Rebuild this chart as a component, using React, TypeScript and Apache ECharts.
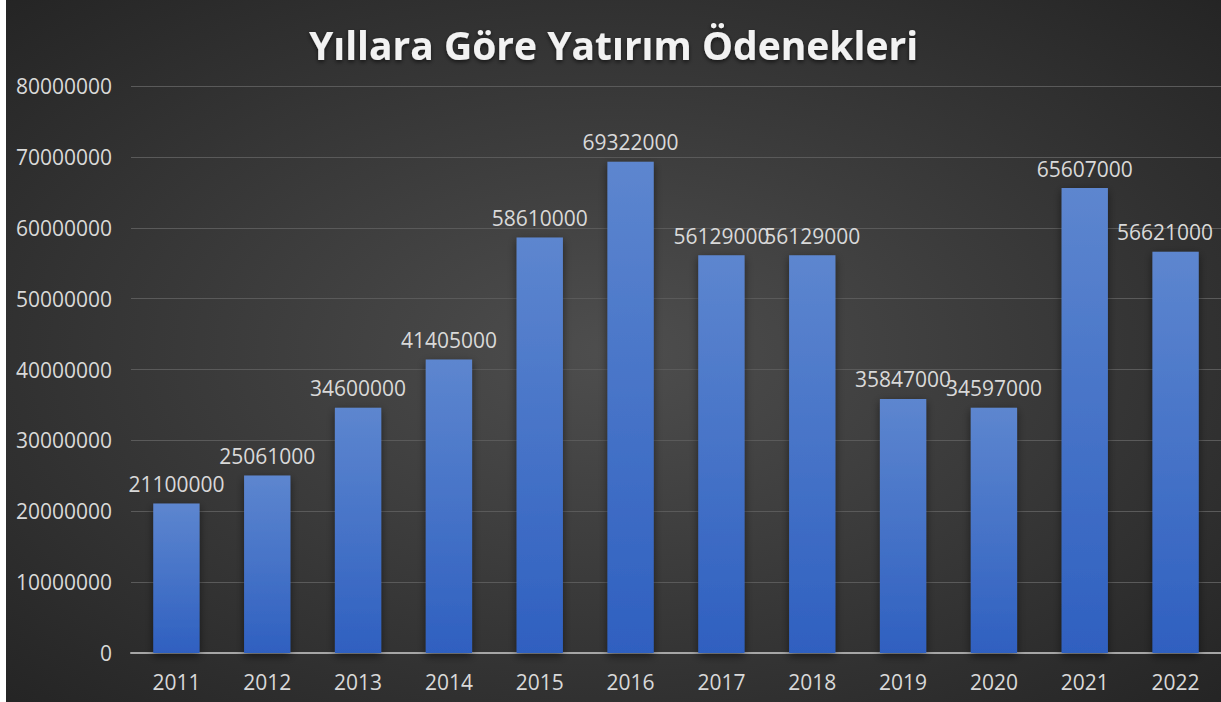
import React, { useEffect, useRef } from "react";
import * as echarts from "echarts";

const titleText = "Yıllara Göre Yatırım Ödenekleri";
const years = ["2011", "2012", "2013", "2014", "2015", "2016", "2017", "2018", "2019", "2020", "2021", "2022"];
const values = [21100000, 25061000, 34600000, 41405000, 58610000, 69322000, 56129000, 56129000, 35847000, 34597000, 65607000, 56621000];

export default function App() {
  const ref = useRef<HTMLDivElement>(null);
  useEffect(() => {
    const chart = echarts.init(ref.current!, undefined, { renderer: "svg" });
    const chartWidth = ref.current!.clientWidth;
    chart.setOption({
      animation: false,
      backgroundColor: new echarts.graphic.RadialGradient(0.5, 0.5, 0.75, [
        { offset: 0, color: "#4e4e4e" },
        { offset: 1, color: "#222222" },
      ]),
      title: {
        text: titleText,
        left: "center",
        top: 20,
        textStyle: {
          color: "#f2f2f2",
          fontSize: 39,
          fontWeight: "bold",
          fontFamily: "Open Sans",
          textShadowColor: "rgba(0,0,0,0.6)",
          textShadowBlur: 4,
          textShadowOffsetY: 2,
        },
      },
      grid: { left: 125, right: 0, top: 86, bottom: 49, containLabel: false },
      xAxis: {
        type: "category",
        data: years,
        axisLine: { lineStyle: { color: "#a6a6a6", width: 2 } },
        axisTick: { show: false },
        axisLabel: { color: "#d9d9d9", fontSize: 21, fontFamily: "Open Sans", margin: 18 },
      },
      yAxis: {
        type: "value",
        min: 0,
        max: 80000000,
        interval: 10000000,
        axisLine: { show: false },
        axisTick: { show: false },
        axisLabel: {
          color: "#d9d9d9",
          fontSize: 21,
          fontFamily: "Open Sans",
          margin: 19,
          formatter: (v: number) => String(v),
        },
        splitLine: { lineStyle: { color: "#5a5a5a", width: 1 } },
      },
      series: [
        {
          type: "bar",
          data: values,
          barWidth: "51%",
          itemStyle: {
            color: new echarts.graphic.LinearGradient(0, 0, 0, 1, [
              { offset: 0, color: "#5d86cf" },
              { offset: 1, color: "#2f60c0" },
            ]),
            shadowColor: "rgba(0,0,0,0.5)",
            shadowBlur: 8,
            shadowOffsetY: 3,
          },
          label: {
            show: true,
            position: "top",
            distance: 9,
            color: "#d9d9d9",
            fontSize: 21,
            fontFamily: "Open Sans",
          },
          labelLayout: (params: any) => {
            const r = params.labelRect;
            const over = r.x + r.width - (chartWidth - 8);
            return over > 0 ? { dx: -over } : {};
          },
        },
      ],
    });
    return () => chart.dispose();
  }, []);
  return (
    <div
      ref={ref}
      style={{ position: "absolute", left: 6, top: 0, width: 1215, height: 702 }}
    />
  );
}
